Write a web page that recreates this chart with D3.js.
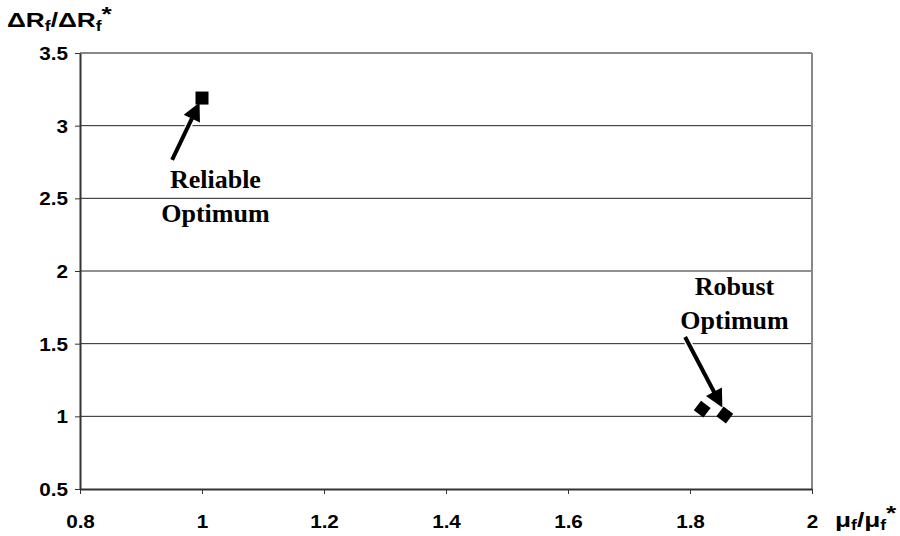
<!DOCTYPE html>
<html><head><meta charset="utf-8">
<script src="https://cdnjs.cloudflare.com/ajax/libs/d3/7.8.5/d3.min.js"></script>
<style>body{margin:0;background:#fff}svg{display:block}</style>
</head><body>
<script>
const xTicks = [0.8, 1, 1.2, 1.4, 1.6, 1.8, 2];
const yTicks = [0.5, 1, 1.5, 2, 2.5, 3, 3.5];
const reliablePts = [{x: 1.0, y: 3.19}];
const robustPts = [{x: 1.82, y: 1.05}, {x: 1.857, y: 1.009}];
const annotations = [
  {lines: ["Reliable", "Optimum"], from: [0.951, 2.764], to: [0.996, 3.16], tx: 1.022, ty: 2.57},
  {lines: ["Robust", "Optimum"], from: [1.792, 1.546], to: [1.853, 1.06], tx: 1.873, ty: 1.835}
];

const W = 900, H = 536;
const m = {l: 80, r: 88, t: 53, b: 47};
const svg = d3.select("body").append("svg").attr("width", W).attr("height", H);
const x = d3.scaleLinear().domain([0.8, 2]).range([m.l, W - m.r]);
const y = d3.scaleLinear().domain([0.5, 3.5]).range([H - m.b, m.t]);

// gridlines
svg.append("g").selectAll("line").data(yTicks.filter(d => d > 0.5 && d < 3.5)).join("line")
  .attr("x1", x(0.8)).attr("x2", x(2)).attr("y1", d => y(d)).attr("y2", d => y(d))
  .attr("stroke", "#222").attr("stroke-width", 1);
svg.append("line").attr("x1", x(0.8)).attr("x2", x(2)).attr("y1", y(3.5)).attr("y2", y(3.5)).attr("stroke", "#888").attr("stroke-width", 2);
svg.append("line").attr("x1", x(2)).attr("x2", x(2)).attr("y1", y(3.5)).attr("y2", y(0.5)).attr("stroke", "#888").attr("stroke-width", 2);

const fontTick = "'Liberation Sans', Arial, sans-serif";
const xAxis = svg.append("g").attr("transform", `translate(0,${y(0.5)})`)
  .call(d3.axisBottom(x).tickValues(xTicks).tickFormat(d3.format("")).tickSize(5).tickSizeOuter(0));
const yAxis = svg.append("g").attr("transform", `translate(${x(0.8)},0)`)
  .call(d3.axisLeft(y).tickValues(yTicks).tickFormat(d3.format("")).tickSize(5).tickSizeOuter(0));
[xAxis, yAxis].forEach(a => {
  a.select(".domain").attr("stroke", "#333").attr("stroke-width", 2);
  a.selectAll(".tick line").attr("stroke", "#333");
  a.selectAll("text").attr("font-family", fontTick).attr("font-weight", "bold").attr("font-size", 18).attr("fill", "#000");
});
xAxis.selectAll(".tick text").attr("y", 0).attr("dy", 0)
  .attr("transform", "translate(0,39) scale(1.15,1)");
yAxis.selectAll(".tick text").attr("x", 0).attr("dy", 0)
  .attr("transform", "translate(-12,6.5) scale(1.15,1)");

// axis titles
const t1 = svg.append("text").attr("transform", "translate(7,27) scale(1.25,1)").attr("font-family", fontTick).attr("font-weight", "bold").attr("font-size", 21);
t1.append("tspan").text("ΔR");
t1.append("tspan").text("f").attr("font-size", 14).attr("dy", 4);
t1.append("tspan").text("/ΔR").attr("dy", -4);
t1.append("tspan").text("f").attr("font-size", 14).attr("dy", 4);
t1.append("tspan").text("*").attr("dy", -10);
const t2 = svg.append("text").attr("transform", "translate(835,527) scale(1.25,1)").attr("font-family", fontTick).attr("font-weight", "bold").attr("font-size", 21);
t2.append("tspan").text("μ");
t2.append("tspan").text("f").attr("font-size", 14).attr("dy", 3);
t2.append("tspan").text("/μ").attr("dy", -3);
t2.append("tspan").text("f").attr("font-size", 14).attr("dy", 3);
t2.append("tspan").text("*").attr("dy", -10);

// markers
svg.append("g").selectAll("rect").data(reliablePts).join("rect")
  .attr("x", d => x(d.x) - 6.5).attr("y", d => y(d.y) - 6.5).attr("width", 13).attr("height", 13).attr("fill", "#000");
const dh = 8.5;
svg.append("g").selectAll("path").data(robustPts).join("path")
  .attr("d", `M0,${-dh}L${dh},0L0,${dh}L${-dh},0Z`)
  .attr("transform", d => `translate(${x(d.x)},${y(d.y)}) rotate(-8)`)
  .attr("fill", "#000");

// annotations
annotations.forEach(a => {
  const x1 = x(a.from[0]), y1 = y(a.from[1]), x2 = x(a.to[0]), y2 = y(a.to[1]);
  const ang = Math.atan2(y2 - y1, x2 - x1);
  const hl = 18, hw = 9;
  const bx = x2 - hl * Math.cos(ang), by = y2 - hl * Math.sin(ang);
  const px = -Math.sin(ang), py = Math.cos(ang);
  const g = svg.append("g");
  g.append("line").attr("x1", x1).attr("y1", y1).attr("x2", bx).attr("y2", by)
    .attr("stroke", "#fff").attr("stroke-width", 7);
  g.append("line").attr("x1", x1).attr("y1", y1).attr("x2", bx + 2 * Math.cos(ang)).attr("y2", by + 2 * Math.sin(ang))
    .attr("stroke", "#000").attr("stroke-width", 4);
  g.append("path").attr("d", `M${x2},${y2}L${bx + hw * px},${by + hw * py}L${bx - hw * px},${by - hw * py}Z`).attr("fill", "#000");
  const txt = svg.append("text").attr("text-anchor", "middle")
    .attr("font-family", "'Liberation Serif', 'Times New Roman', serif").attr("font-weight", "bold").attr("font-size", 26);
  a.lines.forEach((l, i) => txt.append("tspan").attr("x", x(a.tx)).attr("y", y(a.ty) + i * 34).text(l));
});
</script>
</body></html>
